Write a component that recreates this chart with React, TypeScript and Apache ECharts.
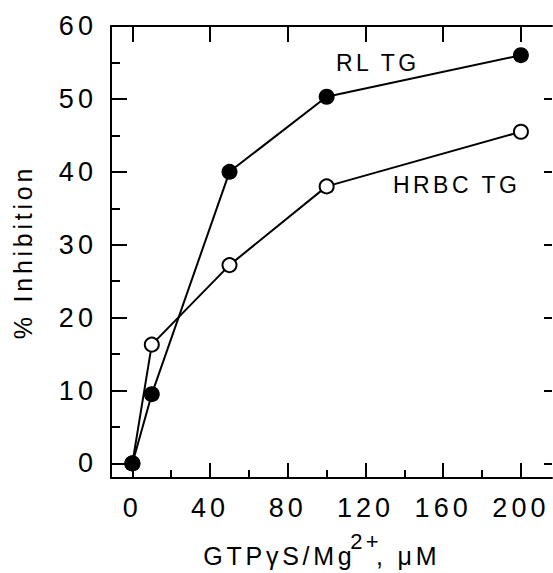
import React, { useEffect, useRef } from "react";
import * as echarts from "echarts";

const xMajor = [0, 40, 80, 120, 160, 200];
const xMinor = [20, 60, 100, 140, 180];
const yMajor = [0, 10, 20, 30, 40, 50, 60];
const yMinor = [5, 15, 25, 35, 45, 55];

const rlTG: [number, number][] = [
  [0, 0],
  [10, 9.5],
  [50, 40],
  [100, 50.3],
  [200, 56],
];
const hrbcTG: [number, number][] = [
  [0, 0],
  [10, 16.3],
  [50, 27.2],
  [100, 38],
  [200, 45.5],
];

const FONT = "Liberation Sans";

export default function App() {
  const ref = useRef<HTMLDivElement>(null);
  useEffect(() => {
    if (!ref.current) return;
    const chart = echarts.init(ref.current, undefined, { renderer: "svg" });
    const xRange = { min: -11, max: 216 };
    const yRange = { min: -2, max: 60 };
    const line = () => ({ show: true, onZero: false, lineStyle: { color: "#000", width: 2 } });
    const noLine = () => ({ show: false, onZero: false, lineStyle: { color: "#f00", width: 0 } });
    const base = {
      type: "value" as const,
      splitLine: { show: false },
    };
    chart.setOption({
      animation: false,
      backgroundColor: "#fff",
      grid: { left: 111, right: 1, top: 26, bottom: 95, show: false },
      xAxis: [
        {
          ...base,
          ...xRange,
          position: "bottom",
          axisLine: line(),
          axisTick: {
            show: true,
            inside: true,
            length: 15,
            customValues: xMajor,
            lineStyle: { color: "#000", width: 2 },
          },
          axisLabel: {
            customValues: xMajor,
            margin: 16,
            color: "#000",
            fontFamily: FONT,
            fontSize: 27,
          },
          name: "{a|GTPγS/Mg}{s|2+}{b|, μM}",
          nameLocation: "middle",
          nameGap: 52,
          nameTextStyle: {
            color: "#000",
            rich: {
              a: {
                fontFamily: FONT,
                fontSize: 25,
                color: "#000",
                verticalAlign: "bottom",
                padding: [0, 13, 0, 0],
              },
              s: {
                fontFamily: FONT,
                fontSize: 22,
                lineHeight: 38,
                color: "#000",
                verticalAlign: "top",
                padding: [0, 5, 0, 0],
              },
              b: {
                fontFamily: FONT,
                fontSize: 25,
                color: "#000",
                verticalAlign: "bottom",
                padding: [0, 12, 0, 0],
              },
            },
          },
        },
        {
          ...base,
          ...xRange,
          position: "bottom",
          axisLine: noLine(),
          axisTick: {
            show: true,
            inside: true,
            length: 8,
            customValues: xMinor,
            lineStyle: { color: "#000", width: 2 },
          },
          axisLabel: { show: false },
        },
        {
          ...base,
          ...xRange,
          position: "top",
          axisLine: line(),
          axisTick: {
            show: true,
            inside: true,
            length: 16,
            customValues: xMajor,
            lineStyle: { color: "#000", width: 2 },
          },
          axisLabel: { show: false },
        },
      ],
      yAxis: [
        {
          ...base,
          ...yRange,
          position: "left",
          axisLine: line(),
          axisTick: {
            show: true,
            inside: true,
            length: 16,
            customValues: yMajor,
            lineStyle: { color: "#000", width: 2 },
          },
          axisLabel: {
            customValues: yMajor,
            margin: 14,
            color: "#000",
            fontFamily: FONT,
            fontSize: 27,
          },
          name: "% Inhibition",
          nameLocation: "middle",
          nameGap: 76,
          nameRotate: 90,
          nameTextStyle: { color: "#000", fontFamily: FONT, fontSize: 25 },
        },
        {
          ...base,
          ...yRange,
          position: "left",
          axisLine: noLine(),
          axisTick: {
            show: true,
            inside: true,
            length: 9,
            customValues: yMinor,
            lineStyle: { color: "#000", width: 2 },
          },
          axisLabel: { show: false },
        },
        {
          ...base,
          ...yRange,
          position: "right",
          axisLine: noLine(),
          axisTick: {
            show: true,
            inside: true,
            length: 8,
            customValues: yMajor,
            lineStyle: { color: "#000", width: 2 },
          },
          axisLabel: { show: false },
        },
      ],
      series: [
        {
          name: "HRBC TG",
          type: "line",
          xAxisIndex: 0,
          yAxisIndex: 0,
          data: hrbcTG,
          symbol: "circle",
          symbolSize: 14,
          lineStyle: { color: "#000", width: 2 },
          itemStyle: { color: "#fff", borderColor: "#000", borderWidth: 2 },
        },
        {
          name: "RL TG",
          type: "line",
          xAxisIndex: 0,
          yAxisIndex: 0,
          data: rlTG,
          symbol: "circle",
          symbolSize: 16,
          lineStyle: { color: "#000", width: 2 },
          itemStyle: { color: "#000" },
        },
      ],
      graphic: [
        {
          type: "text",
          x: 336,
          y: 63,
          style: {
            text: "RL TG",
            font: `23px "${FONT}"`,
            fill: "#000",
            textAlign: "left",
            textVerticalAlign: "middle",
          },
        },
        {
          type: "text",
          x: 393,
          y: 185,
          style: {
            text: "HRBC TG",
            font: `23px "${FONT}"`,
            fill: "#000",
            textAlign: "left",
            textVerticalAlign: "middle",
          },
        },
      ],
    });
    return () => chart.dispose();
  }, []);
  return (
    <>
      <style>{".chartbox text { letter-spacing: 0.15em; }"}</style>
      <div
        ref={ref}
        className="chartbox"
        style={{ position: "fixed", left: 0, top: 0, width: 553, height: 573 }}
      />
    </>
  );
}
